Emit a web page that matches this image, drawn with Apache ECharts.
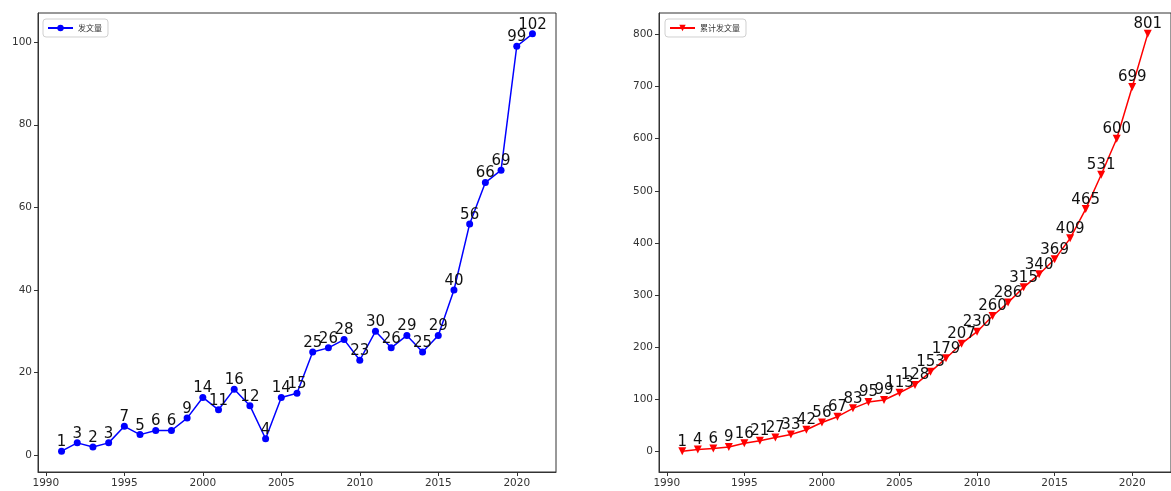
<!DOCTYPE html>
<html>
<head>
<meta charset="utf-8">
<script src="https://cdn.jsdelivr.net/npm/echarts@6/dist/echarts.min.js"></script>
<style>
  html, body { margin: 0; padding: 0; background: #fff; }
  #chart { width: 1171px; height: 491px; }
</style>
</head>
<body>
<div id="chart"></div>
<script>
// Publications per year and the running total, 1991–2021
const years = [1991, 1992, 1993, 1994, 1995, 1996, 1997, 1998, 1999, 2000,
               2001, 2002, 2003, 2004, 2005, 2006, 2007, 2008, 2009, 2010,
               2011, 2012, 2013, 2014, 2015, 2016, 2017, 2018, 2019, 2020, 2021];
const annualCounts = [1, 3, 2, 3, 7, 5, 6, 6, 9, 14,
                      11, 16, 12, 4, 14, 15, 25, 26, 28, 23,
                      30, 26, 29, 25, 29, 40, 56, 66, 69, 99, 102];
const cumulativeCounts = [1, 4, 6, 9, 16, 21, 27, 33, 42, 56,
                          67, 83, 95, 99, 113, 128, 153, 179, 207, 230,
                          260, 286, 315, 340, 369, 409, 465, 531, 600, 699, 801];
const xTicks = [1990, 1995, 2000, 2005, 2010, 2015, 2020];
const yTicksLeft = [0, 20, 40, 60, 80, 100];
const yTicksRight = [0, 100, 200, 300, 400, 500, 600, 700, 800];
const seriesNames = ['发文量', '累计发文量'];

const FONT = 'DejaVu Sans';
const AXIS_COLOR = '#333';

function pairs(values) {
  return years.map((y, i) => [y, values[i]]);
}

const tickLabelStyle = {
  margin: 6, color: '#333', fontFamily: FONT, fontSize: 10.5,
  formatter: v => String(v)
};

function xAxisFor(gridIndex) {
  return {
    type: 'value', gridIndex,
    min: 1989.5, max: 2022.5,
    axisLine: { show: true, onZero: false, lineStyle: { color: AXIS_COLOR, width: 1 } },
    axisTick: { show: true, customValues: xTicks, length: 4, lineStyle: { color: AXIS_COLOR } },
    axisLabel: Object.assign({ customValues: xTicks }, tickLabelStyle),
    splitLine: { show: false }
  };
}

function yAxisFor(gridIndex, min, max, ticks) {
  return {
    type: 'value', gridIndex, min, max,
    axisLine: { show: true, onZero: false, lineStyle: { color: AXIS_COLOR, width: 1 } },
    axisTick: { show: true, customValues: ticks, length: 4, lineStyle: { color: AXIS_COLOR } },
    axisLabel: Object.assign({ customValues: ticks }, tickLabelStyle),
    splitLine: { show: false }
  };
}

function legendFor(name, left) {
  return {
    data: [name], left, top: 19,
    orient: 'horizontal',
    backgroundColor: '#fff',
    borderColor: '#d0d0d0', borderWidth: 1, borderRadius: 3,
    padding: [5, 6, 5, 4],
    itemWidth: 25, itemHeight: 8, itemGap: 6,
    textStyle: { fontFamily: '"Noto Sans CJK SC"', fontSize: 8, color: '#333' }
  };
}

const valueLabel = {
  show: true, position: 'top', distance: -2,
  color: '#111', fontFamily: FONT, fontSize: 15,
  formatter: p => String(p.value[1])
};

const chart = echarts.init(document.getElementById('chart'), null, { renderer: 'canvas' });
chart.setOption({
  animation: false,
  backgroundColor: '#fff',
  grid: [
    { left: 38, top: 13, width: 518, bottom: 19, show: true, borderColor: AXIS_COLOR, borderWidth: 1, backgroundColor: 'transparent' },
    { left: 659, top: 13, width: 521, bottom: 19, show: true, borderColor: AXIS_COLOR, borderWidth: 1, backgroundColor: 'transparent' }
  ],
  legend: [legendFor(seriesNames[0], 43), legendFor(seriesNames[1], 665)],
  xAxis: [xAxisFor(0), xAxisFor(1)],
  yAxis: [
    yAxisFor(0, -4.05, 107.05, yTicksLeft),
    yAxisFor(1, -39, 841, yTicksRight)
  ],
  series: [
    {
      name: seriesNames[0], type: 'line', xAxisIndex: 0, yAxisIndex: 0,
      data: pairs(annualCounts),
      symbol: 'circle', symbolSize: 7,
      itemStyle: { color: '#0000ff' },
      lineStyle: { color: '#0000ff', width: 1.5 },
      label: valueLabel
    },
    {
      name: seriesNames[1], type: 'line', xAxisIndex: 1, yAxisIndex: 1,
      data: pairs(cumulativeCounts),
      symbol: 'triangle', symbolSize: 8, symbolRotate: 180,
      itemStyle: { color: '#ff0000' },
      lineStyle: { color: '#ff0000', width: 1.5 },
      label: valueLabel
    }
  ]
});
</script>
</body>
</html>
